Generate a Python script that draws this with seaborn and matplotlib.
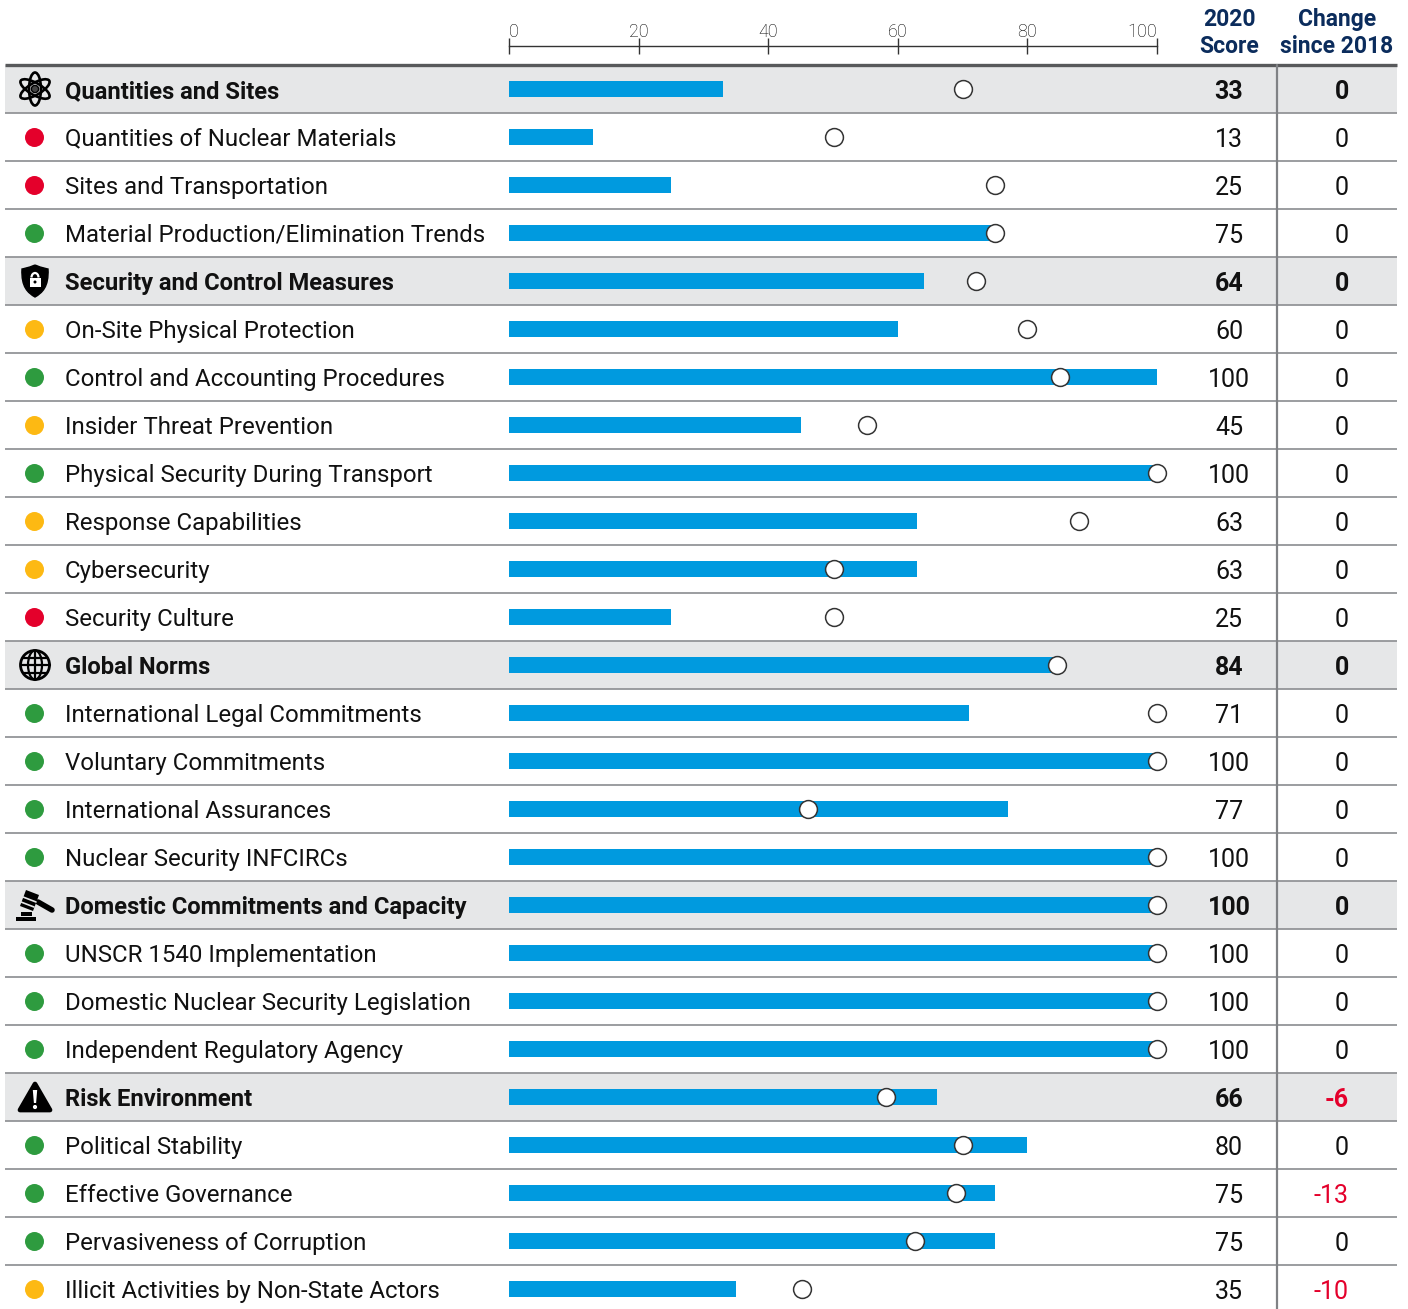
import matplotlib
matplotlib.use("Agg")
import matplotlib.pyplot as plt
import matplotlib.patches as mp
from matplotlib.path import Path
import pandas as pd
import seaborn as sns

labels = ["Quantities and Sites", "Quantities of Nuclear Materials", "Sites and Transportation",
          "Material Production/Elimination Trends", "Security and Control Measures",
          "On-Site Physical Protection", "Control and Accounting Procedures",
          "Insider Threat Prevention", "Physical Security During Transport",
          "Response Capabilities", "Cybersecurity", "Security Culture", "Global Norms",
          "International Legal Commitments", "Voluntary Commitments",
          "International Assurances", "Nuclear Security INFCIRCs",
          "Domestic Commitments and Capacity", "UNSCR 1540 Implementation",
          "Domestic Nuclear Security Legislation", "Independent Regulatory Agency",
          "Risk Environment", "Political Stability", "Effective Governance",
          "Pervasiveness of Corruption", "Illicit Activities by Non-State Actors"]
scores = [33, 13, 25, 75, 64, 60, 100, 45, 100, 63, 63, 25, 84, 71, 100, 77, 100,
          100, 100, 100, 100, 66, 80, 75, 75, 35]
average = [70, 50.2, 75, 75, 72, 80, 85, 55.2, 100, 88, 50.2, 50.2, 84.5, 100, 100, 46.2, 100,
           100, 100, 100, 100, 58.2, 70, 69, 62.7, 45.2]
change = [0, 0, 0, 0, 0, 0, 0, 0, 0, 0, 0, 0, 0, 0, 0, 0, 0, 0, 0, 0, 0, -6, 0, -13, 0, -10]
status = [None, "r", "r", "g", None, "y", "g", "y", "g", "y", "y", "r", None, "g", "g", "g", "g",
          None, "g", "g", "g", None, "g", "g", "g", "y"]
ticks = [0, 20, 40, 60, 80, 100]

W, H = 1408, 1309
BLUE = "#009ADF"
NAVY = "#0B2C5C"
RED = "#E4002B"
INK = "#111111"
dot_colors = {"r": RED, "y": "#FDB913", "g": "#2E9B3F"}

sns.set_theme(style="white")
plt.rcParams["font.family"] = ["Roboto", "DejaVu Sans"]

df = pd.DataFrame({"label": labels, "row": range(len(labels)), "score": scores,
                   "average": average})

fig = plt.figure(figsize=(W / 100, H / 100), dpi=100)

# page axes in pixels, holds the table part
page = fig.add_axes([0, 0, 1, 1], zorder=0)
page.set_xlim(0, W)
page.set_ylim(H, 0)
page.axis("off")


def row_y(i):
    return 89 + 48 * i


for i, name in enumerate(labels):
    y = row_y(i)
    head = status[i] is None
    if head:
        page.add_patch(mp.Rectangle((5, y - 24), 1392, 48, color="#E6E7E8", lw=0, zorder=0))
    else:
        page.scatter(34, y, s=187, color=dot_colors[status[i]], linewidths=0, zorder=3)
    weight = "bold" if head else "normal"
    page.text(65, y - 0.2, name, fontsize=17.1 if head else 17.25, color=INK, weight=weight,
              va="center_baseline")
    page.text(1229, y + 0.5, str(scores[i]), fontsize=18, color=INK, weight=weight,
              ha="center", va="center_baseline")
    page.text(1349, y + 0.5, str(change[i]), fontsize=18, weight=weight,
              color=RED if change[i] < 0 else INK, ha="right", va="center_baseline")
    if i > 0:
        page.plot([5, 1397], [y - 24, y - 24], color="#939598", lw=1.3, zorder=1,
                  solid_capstyle="butt")

page.plot([5, 1397], [65, 65], color="#58595B", lw=2.4, zorder=2, solid_capstyle="butt")
page.plot([1277, 1277], [65, H], color="#808285", lw=1.6, zorder=2)

for x, txt in [(1229, "2020\nScore"), (1337, "Change\nsince 2018")]:
    page.text(x, 33, txt, fontsize=16.5, color=NAVY, weight="bold", ha="center", va="center",
              linespacing=1.19)


# icons
def atom(cx, cy):
    for ang in (30, 90, 150):
        page.add_patch(mp.Ellipse((cx, cy), 33, 12, angle=ang, fill=False, ec="black", lw=1.9, zorder=3))
    page.add_patch(mp.Circle((cx, cy), 3.6, fc="#444444", ec="black", lw=1, zorder=3))


def shield(cx, cy):
    verts = [(cx, cy - 16), (cx + 7, cy - 13), (cx + 13, cy - 12), (cx + 13, cy - 12),
             (cx + 14, cy + 6), (cx + 7, cy + 12), (cx, cy + 16),
             (cx - 7, cy + 12), (cx - 14, cy + 6), (cx - 13, cy - 12),
             (cx - 13, cy - 12), (cx - 7, cy - 13), (cx, cy - 16)]
    codes = [Path.MOVETO] + [Path.CURVE4] * 12
    page.add_patch(mp.PathPatch(Path(verts, codes), fc="black", ec="black", lw=1, zorder=3))
    page.add_patch(mp.Rectangle((cx - 5.5, cy - 3), 11, 8.5, fc="white", lw=0, zorder=4))
    page.add_patch(mp.Arc((cx, cy - 3.5), 7, 9, theta1=180, theta2=360, ec="white", lw=1.6, zorder=4))
    page.add_patch(mp.Circle((cx, cy + 1), 1.5, fc="black", lw=0, zorder=5))


def globe(cx, cy):
    page.add_patch(mp.Circle((cx, cy), 14.5, fill=False, ec="black", lw=2, zorder=3))
    page.add_patch(mp.Ellipse((cx, cy), 14, 29, fill=False, ec="black", lw=1.6, zorder=3))
    page.plot([cx, cx], [cy - 14.5, cy + 14.5], color="black", lw=1.6, zorder=3)
    page.plot([cx - 14.5, cx + 14.5], [cy, cy], color="black", lw=1.6, zorder=3)
    for d in (-7.5, 7.5):
        page.plot([cx - 12.4, cx + 12.4], [cy + d, cy + d], color="black", lw=1.6, zorder=3)


def gavel(cx, cy):
    page.add_patch(mp.Rectangle((16, cy + 12), 20, 3.5, fc="black", lw=0, zorder=3))
    page.add_patch(mp.Rectangle((21, cy + 7), 11, 3.5, fc="black", lw=0, zorder=3))
    page.add_patch(mp.Polygon([(26, cy - 15), (39, cy - 10), (33, cy + 6), (20, cy + 1)],
                              fc="black", lw=0, zorder=3))
    page.plot([23, 36], [cy - 8, cy - 3], color="#E6E7E8", lw=1.2, zorder=4)
    page.plot([21, 34], [cy - 3, cy + 2], color="#E6E7E8", lw=1.2, zorder=4)
    page.plot([38, 52], [cy - 3, cy + 5], color="black", lw=4, solid_capstyle="round", zorder=3)


def warning(cx, cy):
    page.add_patch(mp.Polygon([(cx, cy - 13), (cx + 15, cy + 13), (cx - 15, cy + 13)], fc="black",
                              ec="black", lw=3.4, joinstyle="round", zorder=3))
    page.add_patch(mp.Polygon([(cx - 2.2, cy - 7), (cx + 2.2, cy - 7), (cx + 1.1, cy + 6), (cx - 1.1, cy + 6)],
                              fc="white", lw=0, zorder=4))
    page.add_patch(mp.Circle((cx, cy + 10), 2.1, fc="white", lw=0, zorder=4))


atom(35, row_y(0))
shield(35, row_y(4))
globe(35, row_y(12))
gavel(35, row_y(17))
warning(35, row_y(21))

# chart axes, rows run down the table from the line at y=65
left, right = 509, 1157
top = 65
bottom = 65 + 48 * len(labels)
ax = fig.add_axes([left / W, 1 - bottom / H, (right - left) / W, (bottom - top) / H], zorder=2)
ax.patch.set_alpha(0)
sns.barplot(data=df, x="score", y="row", orient="h", color=BLUE, saturation=1, width=1 / 3,
            linewidth=0, ax=ax)
sns.scatterplot(data=df, x="average", y="row", s=165, color="white", edgecolor="#333333",
                linewidth=1.1, clip_on=False, zorder=5, ax=ax)
ax.set_xlim(0, 100)
ax.set_ylim(len(labels) - 0.5, -0.5)
ax.axis("off")

# score scale above the table
scale = fig.add_axes([left / W, 1 - 47 / H, (right - left) / W, 1 / H], zorder=2)
scale.patch.set_alpha(0)
scale.set_xlim(0, 100)
scale.set_yticks([])
scale.set_xticks(ticks)
sns.despine(ax=scale, left=True, right=True, bottom=True, top=False)
scale.xaxis.tick_top()
scale.tick_params(axis="x", direction="inout", length=11, width=1, color="#333333", pad=-1.8,
                  labelsize=13, labelcolor="#000000", top=True, bottom=False)
for t in scale.get_xticklabels():
    t.set_fontweight("light")
scale.get_xticklabels()[0].set_ha("left")
scale.get_xticklabels()[-1].set_ha("right")
scale.spines["top"].set_color("#333333")
scale.spines["top"].set_linewidth(1)

fig.savefig("out.png", dpi=100)
